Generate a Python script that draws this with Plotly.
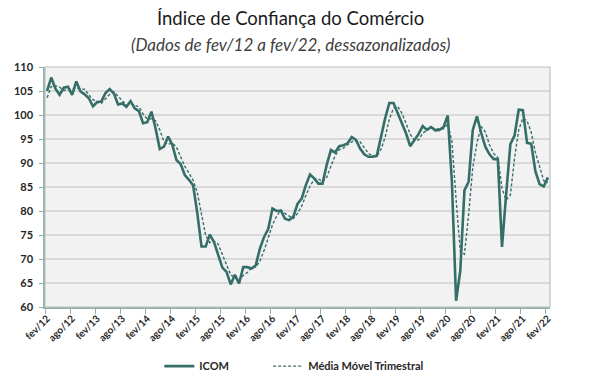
import plotly.graph_objects as go

# Monthly index from fev/12 (0) to fev/22 (120)
tick_labels = ["fev/12", "ago/12", "fev/13", "ago/13", "fev/14", "ago/14", "fev/15", "ago/15",
               "fev/16", "ago/16", "fev/17", "ago/17", "fev/18", "ago/18", "fev/19", "ago/19",
               "fev/20", "ago/20", "fev/21", "ago/21", "fev/22"]

icom = [105.0, 107.8, 105.5, 104.2, 105.7, 105.9, 104.2, 107.0, 104.9, 104.3,
        103.5, 101.8, 102.7, 102.8, 104.6, 105.4, 104.5, 102.2, 102.4, 101.7,
        102.9, 101.4, 100.8, 98.3, 98.5, 100.7, 97.2, 92.9, 93.4, 95.5,
        93.8, 90.6, 89.8, 87.5, 86.5, 85.3, 79.5, 72.6, 72.6, 75.1,
        73.5, 70.8, 68.2, 67.3, 64.7, 66.7, 64.9, 68.3, 68.3, 68.0,
        68.7, 72.2, 74.6, 76.3, 80.5, 80.0, 80.1, 78.4, 78.1, 78.8,
        81.5, 82.6, 85.4, 87.6, 86.8, 85.7, 85.7, 89.6, 92.7, 92.2,
        93.5, 93.7, 94.1, 95.4, 94.8, 93.0, 91.8, 91.3, 91.3, 91.5,
        95.5, 99.3, 102.5, 102.5, 100.4, 98.3, 96.2, 93.5, 94.8, 96.0,
        97.7, 96.9, 97.5, 96.8, 96.9, 97.5, 99.9, 86.0, 61.3, 67.5,
        84.3, 86.1, 96.9, 99.7, 96.3, 93.4, 91.8, 90.8, 90.8, 72.5,
        83.5, 93.9, 95.7, 101.1, 101.0, 94.2, 94.0, 88.3, 85.6, 85.1,
        87.0]

media_movel = [103.6, 105.9, 106.1, 105.8, 105.1, 105.3, 105.3, 105.7, 105.4, 105.4,
               104.2, 103.2, 102.7, 102.4, 103.4, 104.3, 104.8, 104.0, 103.0, 102.1,
               102.3, 102.0, 101.7, 100.2, 99.2, 99.2, 98.8, 96.9, 94.5, 93.9,
               94.2, 93.3, 91.4, 89.3, 87.9, 86.4, 83.8, 79.1, 74.9, 73.4,
               73.7, 73.1, 70.8, 68.8, 66.7, 66.2, 65.4, 66.6, 67.2, 68.2,
               68.3, 69.6, 71.8, 74.4, 77.1, 78.9, 80.2, 79.5, 78.9, 78.4,
               79.5, 81.0, 83.2, 85.2, 86.6, 86.7, 86.1, 87.0, 89.3, 91.5,
               92.8, 93.1, 93.8, 94.4, 94.8, 94.4, 93.2, 92.0, 91.5, 91.4,
               92.8, 95.4, 99.1, 101.4, 101.8, 100.4, 98.3, 96.0, 94.8, 94.8,
               96.2, 96.9, 97.4, 97.1, 97.1, 97.1, 98.1, 94.5, 82.4, 71.6,
               71.0, 79.3, 89.1, 94.2, 97.6, 96.5, 93.8, 92.0, 91.1, 84.7,
               82.3, 83.3, 91.0, 96.9, 99.3, 98.8, 96.4, 92.2, 89.3, 86.3,
               85.9]

months = list(range(len(icom)))
tick_positions = list(range(0, len(icom), 6))
boundary_ticks = [p - 0.5 for p in tick_positions]

LINE = "#356e68"
AXIS = "#8fb0ac"
FONT = "Lato"

fig = go.Figure()
fig.add_trace(go.Scatter(x=months, y=icom, mode="lines", name="ICOM",
                         line=dict(color=LINE, width=2.6), legend="legend"))
fig.add_trace(go.Scatter(x=months, y=media_movel, mode="lines", name="Média Móvel Trimestral",
                         line=dict(color=LINE, width=1.4, dash="3px,2px"), legend="legend2"))

legend_common = dict(orientation="h", xref="container", yref="container",
                     y=0.06, yanchor="middle", xanchor="left",
                     font=dict(family=FONT, size=11, weight="bold", color="#262626"),
                     itemwidth=30, bgcolor="rgba(0,0,0,0)")

fig.update_layout(
    width=582, height=381,
    margin=dict(l=37, r=40, t=59, b=82),
    paper_bgcolor="white",
    plot_bgcolor="#f2f2f2",
    font=dict(family=FONT, color="#262626"),
    showlegend=True,
    legend=dict(x=0.260, **legend_common),
    legend2=dict(x=0.447, **legend_common),
    annotations=[
        dict(text="Índice de Confiança do Comércio", xref="paper", yref="paper",
             x=0.487, y=1.0, yshift=49, xanchor="center", yanchor="middle", showarrow=False,
             font=dict(family=FONT, size=18.5, color="#1a1a1a")),
        dict(text="<i>(Dados de fev/12 a fev/22, dessazonalizados)</i>", xref="paper", yref="paper",
             x=0.487, y=1.0, yshift=23, xanchor="center", yanchor="middle", showarrow=False,
             font=dict(family=FONT, size=17, color="#404040")),
    ],
    shapes=[
        dict(type="rect", xref="x domain", yref="y domain", x0=0, x1=1, y0=0, y1=1,
             line=dict(color="#c0c0c0", width=1.2), layer="above"),
    ],
)

fig.update_xaxes(
    range=[-0.5, len(icom) - 0.5], automargin=False,
    tickmode="array", tickvals=tick_positions, ticktext=tick_labels,
    tickangle=-45, ticks="",
    tickfont=dict(family=FONT, size=10, weight="bold", color="#262626"),
    showgrid=False, zeroline=False,
    showline=True, linecolor=AXIS, linewidth=1.5,
    minor=dict(tickmode="array", tickvals=boundary_ticks, ticks="outside",
               ticklen=5, tickcolor=AXIS, tickwidth=1.2, showgrid=False),
)
fig.update_yaxes(
    range=[60, 110], automargin=False, tickmode="array", tickvals=list(range(60, 111, 5)),
    tickfont=dict(family=FONT, size=11, weight="bold", color="#262626"),
    showgrid=True, gridcolor="#d9d9d9", gridwidth=1.5,
    zeroline=False, showline=True, linecolor=AXIS, linewidth=1.5,
    ticks="outside", ticklen=4, tickcolor=AXIS, ticklabelstandoff=4,
)

fig.write_html("out.html")
